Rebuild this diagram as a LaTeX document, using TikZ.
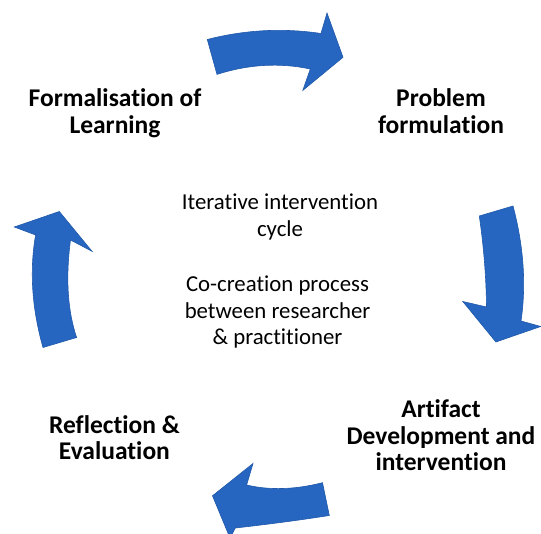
\documentclass[tikz,border=0pt]{standalone}
\usepackage{fontspec}
\setmainfont{Carlito}[Ligatures=NoCommon]
\definecolor{cycleblue}{RGB}{38,102,192}
\definecolor{cycleedge}{RGB}{32,88,170}
\begin{document}
\begin{tikzpicture}[x=1pt,y=-1pt,
  blockarrow/.style={fill=cycleblue,draw=cycleedge,line width=0.6pt,line join=miter},
  stage/.style={font=\bfseries\fontsize{25.5}{26.5}\selectfont,align=center,anchor=base,inner sep=0pt},
  note/.style={font=\fontsize{22.8}{26.8}\selectfont,align=center,anchor=base,inner sep=0pt}]
\useasboundingbox (0,0) rectangle (541,534);

% top arrow: towards "Problem formulation"
\path[blockarrow] (207.3,39.5) .. controls (245,29.8) and (282.9,27.8) .. (321,33.5)
  -- (327,13) -- (343,57.3) -- (302.8,90.4) -- (310.3,69)
  .. controls (279.7,62.5) and (248.6,64.3) .. (217,74.4) -- cycle;

% right arrow: downwards
\path[blockarrow] (479.3,216) -- (513,206)
  .. controls (523.7,246.3) and (526.3,284.7) .. (521,321)
  -- (540.7,326.5) -- (495.9,342) -- (462.8,301.5) -- (486.5,307)
  .. controls (486.2,277.3) and (483.8,247) .. (479.3,216) -- cycle;

% bottom arrow: leftwards
\path[blockarrow] (322.5,482.7) -- (329.3,515.5)
  .. controls (298.6,520.3) and (267.3,524.4) .. (235.3,528)
  -- (230,538) -- (212.5,495.8) -- (253,463.5) -- (246.6,485)
  .. controls (269.6,490.4) and (294.9,489.7) .. (322.5,482.7) -- cycle;

% left arrow: upwards
\path[blockarrow] (43,347.5) .. controls (31.9,308.3) and (29.4,270.8) .. (35.6,235)
  -- (14.3,227) -- (59.3,211.5) -- (92,251.3) -- (70.5,240)
  .. controls (65.5,278.2) and (67.6,310.7) .. (76.6,337.5) -- cycle;

% stage labels (anchored at the baseline of their last line)
\node[stage] (learn) at (115,133.5) {Formalisation of\\Learning};
\node[stage] (problem) at (441,133.5) {Problem\\formulation};
\node[stage] (artifact) at (441,471) {Artifact\\Development and\\intervention};
\node[stage] (reflect) at (114.4,460) {Reflection \&\\Evaluation};

% centre text
\node[note] (cycle) at (280,236.3) {Iterative intervention\\cycle};
\node[note] (cocreate) at (277.5,345) {Co-creation process\\between researcher\\\& practitioner};
\end{tikzpicture}
\end{document}
